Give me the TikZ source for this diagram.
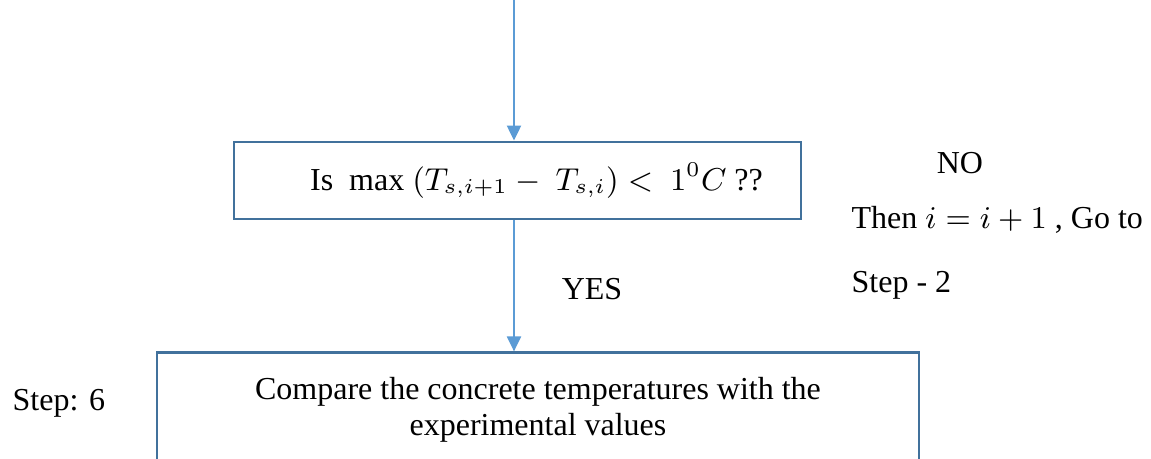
\documentclass[tikz,border=0pt]{standalone}
\usepackage{fontspec}
\setmainfont{Liberation Serif}
\usetikzlibrary{arrows.meta, positioning}
\definecolor{flowblue}{HTML}{5B9BD5}
\definecolor{boxblue}{HTML}{41719C}
\newcommand{\flowtext}{\fontsize{9.1}{10.5}\selectfont}
\tikzset{
  >={Triangle[length=1.5mm, width=1.4mm]},
  stepbox/.style={rectangle, draw=boxblue, line width=0.8pt, align=center,
                  inner sep=2pt, font=\flowtext},
  flow/.style={->, draw=flowblue, line width=0.6pt},
  lbl/.style={font=\flowtext, inner sep=0pt},
}

\begin{document}
\begin{tikzpicture}
  \useasboundingbox (0,0) rectangle (11.51,4.59);
  \clip (0,0) rectangle (11.51,4.59);
  \node[stepbox, minimum width=5.67cm, minimum height=0.77cm] (check) at (5.175,2.785)
    {\hspace*{0.38cm}Is~~max $(T_{s,i+1} -\ T_{s,i}) <\ 1^{0}C$ ??};
  \node[stepbox, minimum width=7.62cm, minimum height=1.14cm, below=1.31cm of check, xshift=2.05mm] (compare)
    {Compare the concrete temperatures with the\\experimental values};
  \coordinate (in) at (5.14,4.62);
  \draw[flow] (in) -- (in |- check.north);
  \draw[flow] (in |- check.south) -- (in |- compare.north);
  % side labels
  \node[lbl] (no) at (9.60,2.96) {NO};
  \node[lbl, anchor=west] (then) at (8.51,2.39) {Then $i = i + 1$ , Go to};
  \node[lbl, anchor=west] (goto) at (8.51,1.74) {Step - 2};
  \node[lbl] (yes) at (5.92,1.70) {YES};
  \node[lbl, anchor=west] (stepsix) at (0.12,0.56) {Step: 6};
\end{tikzpicture}
\end{document}
